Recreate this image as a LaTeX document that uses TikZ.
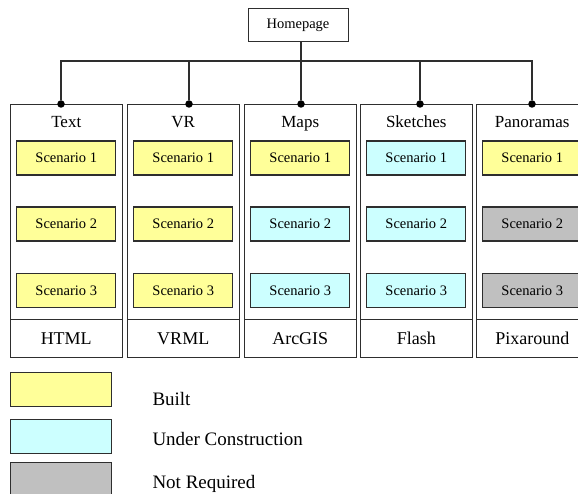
\documentclass[tikz,border=0pt]{standalone}
\usepackage{fontspec}
\setmainfont{Liberation Serif}
\usepackage{tikz}
\usetikzlibrary{positioning,calc}
\definecolor{builtyellow}{HTML}{FFFF99}
\definecolor{buildcyan}{HTML}{CCFFFF}
\definecolor{skipgray}{HTML}{C0C0C0}
\definecolor{edgegray}{HTML}{2E2E2E}

\begin{document}
\begin{tikzpicture}[
  x=1pt, y=-1pt,
  line width=1pt,
  colbox/.style={
    draw=edgegray,
    minimum width=111.5pt,
    minimum height=253pt,
    inner sep=0pt,
    anchor=north west
  },
  scenbox/.style={
    draw=edgegray,
    line width=1.2pt,
    minimum width=99pt,
    minimum height=34pt,
    inner sep=0pt,
    font=\fontsize{14.5}{16}\selectfont
  },
  colhead/.style={anchor=base, font=\fontsize{17}{19}\selectfont},
  toollabel/.style={anchor=base, font=\fontsize{18}{20}\selectfont},
  joint/.style={circle, fill=black, inner sep=0pt, minimum size=7.5pt},
  keybox/.style={
    draw=edgegray,
    line width=1.2pt,
    minimum width=101pt,
    minimum height=34pt,
    inner sep=0pt,
    anchor=north west
  },
  keylabel/.style={anchor=base west, inner sep=0pt, font=\fontsize{19}{21}\selectfont}
]
  \clip (0,0) rectangle (578,494);

  % Row levels shared by all columns
  \coordinate (bus) at (0,61);
  \coordinate (headrow) at (0,128);
  \coordinate (row1) at (0,158);
  \coordinate (row2) at (0,224);
  \coordinate (row3) at (0,290.5);
  \coordinate (rule) at (0,319);
  \coordinate (toolrow) at (0,344);

  % Root of the tree
  \node[draw=edgegray, minimum width=100pt, minimum height=33pt, inner sep=0pt,
        font=\fontsize{14.5}{16}\selectfont] (home) at (298,25.5) {Homepage};

  % Column 1: Text
  \node[colbox] (c1) at (10,104) {};
  \node[colhead] (h1) at (c1 |- headrow) {Text};
  \node[scenbox, fill=builtyellow] (s11) at (c1 |- row1) {Scenario 1};
  \node[scenbox, fill=builtyellow] (s12) at (c1 |- row2) {Scenario 2};
  \node[scenbox, fill=builtyellow] (s13) at (c1 |- row3) {Scenario 3};
  \draw[edgegray] (c1.west |- rule) -- (c1.east |- rule);
  \node[toollabel] (t1) at (c1 |- toolrow) {HTML};

  % Column 2: VR
  \node[colbox] (c2) at (127,104) {};
  \node[colhead] (h2) at (c2 |- headrow) {VR};
  \node[scenbox, fill=builtyellow] (s21) at (c2 |- row1) {Scenario 1};
  \node[scenbox, fill=builtyellow] (s22) at (c2 |- row2) {Scenario 2};
  \node[scenbox, fill=builtyellow] (s23) at (c2 |- row3) {Scenario 3};
  \draw[edgegray] (c2.west |- rule) -- (c2.east |- rule);
  \node[toollabel] (t2) at (c2 |- toolrow) {VRML};

  % Column 3: Maps
  \node[colbox] (c3) at (244,104) {};
  \node[colhead] (h3) at (c3 |- headrow) {Maps};
  \node[scenbox, fill=builtyellow] (s31) at (c3 |- row1) {Scenario 1};
  \node[scenbox, fill=buildcyan] (s32) at (c3 |- row2) {Scenario 2};
  \node[scenbox, fill=buildcyan] (s33) at (c3 |- row3) {Scenario 3};
  \draw[edgegray] (c3.west |- rule) -- (c3.east |- rule);
  \node[toollabel] (t3) at (c3 |- toolrow) {ArcGIS};

  % Column 4: Sketches
  \node[colbox] (c4) at (360,104) {};
  \node[colhead] (h4) at (c4 |- headrow) {Sketches};
  \node[scenbox, fill=buildcyan] (s41) at (c4 |- row1) {Scenario 1};
  \node[scenbox, fill=buildcyan] (s42) at (c4 |- row2) {Scenario 2};
  \node[scenbox, fill=buildcyan] (s43) at (c4 |- row3) {Scenario 3};
  \draw[edgegray] (c4.west |- rule) -- (c4.east |- rule);
  \node[toollabel] (t4) at (c4 |- toolrow) {Flash};

  % Column 5: Panoramas (runs off the right edge)
  \node[colbox] (c5) at (476,104) {};
  \node[colhead] (h5) at (c5 |- headrow) {Panoramas};
  \node[scenbox, fill=builtyellow] (s51) at (c5 |- row1) {Scenario 1};
  \node[scenbox, fill=skipgray] (s52) at (c5 |- row2) {Scenario 2};
  \node[scenbox, fill=skipgray] (s53) at (c5 |- row3) {Scenario 3};
  \draw[edgegray] (c5.west |- rule) -- (c5.east |- rule);
  \node[toollabel] (t5) at (c5 |- toolrow) {Pixaround};

  % Joints on the column tops and the bus above them
  \node[joint] (j1) at (61,104) {};
  \node[joint] (j2) at (189,104) {};
  \node[joint] (j3) at (301,104) {};
  \node[joint] (j4) at (420,104) {};
  \node[joint] (j5) at (532,104) {};

  \draw[line width=1.3pt, edgegray] (j1) -- (j1 |- bus) -- (j5 |- bus) -- (j5);
  \draw[line width=1.3pt, edgegray] (j2) -- (j2 |- bus);
  \draw[line width=1.3pt, edgegray] (j4) -- (j4 |- bus);
  \draw[line width=1.3pt, edgegray] (home.south -| j3) -- (j3);

  % Key
  \node[keybox, fill=builtyellow] (k1) at (10,372) {};
  \node[keybox, fill=buildcyan] (k2) at (10,419) {};
  \node[keybox, fill=skipgray] (k3) at (10,462) {};
  \node[keylabel] (l1) at (152,405) {Built};
  \node[keylabel] (l2) at (152,445) {Under Construction};
  \node[keylabel] (l3) at (152,488) {Not Required};

\end{tikzpicture}
\end{document}
